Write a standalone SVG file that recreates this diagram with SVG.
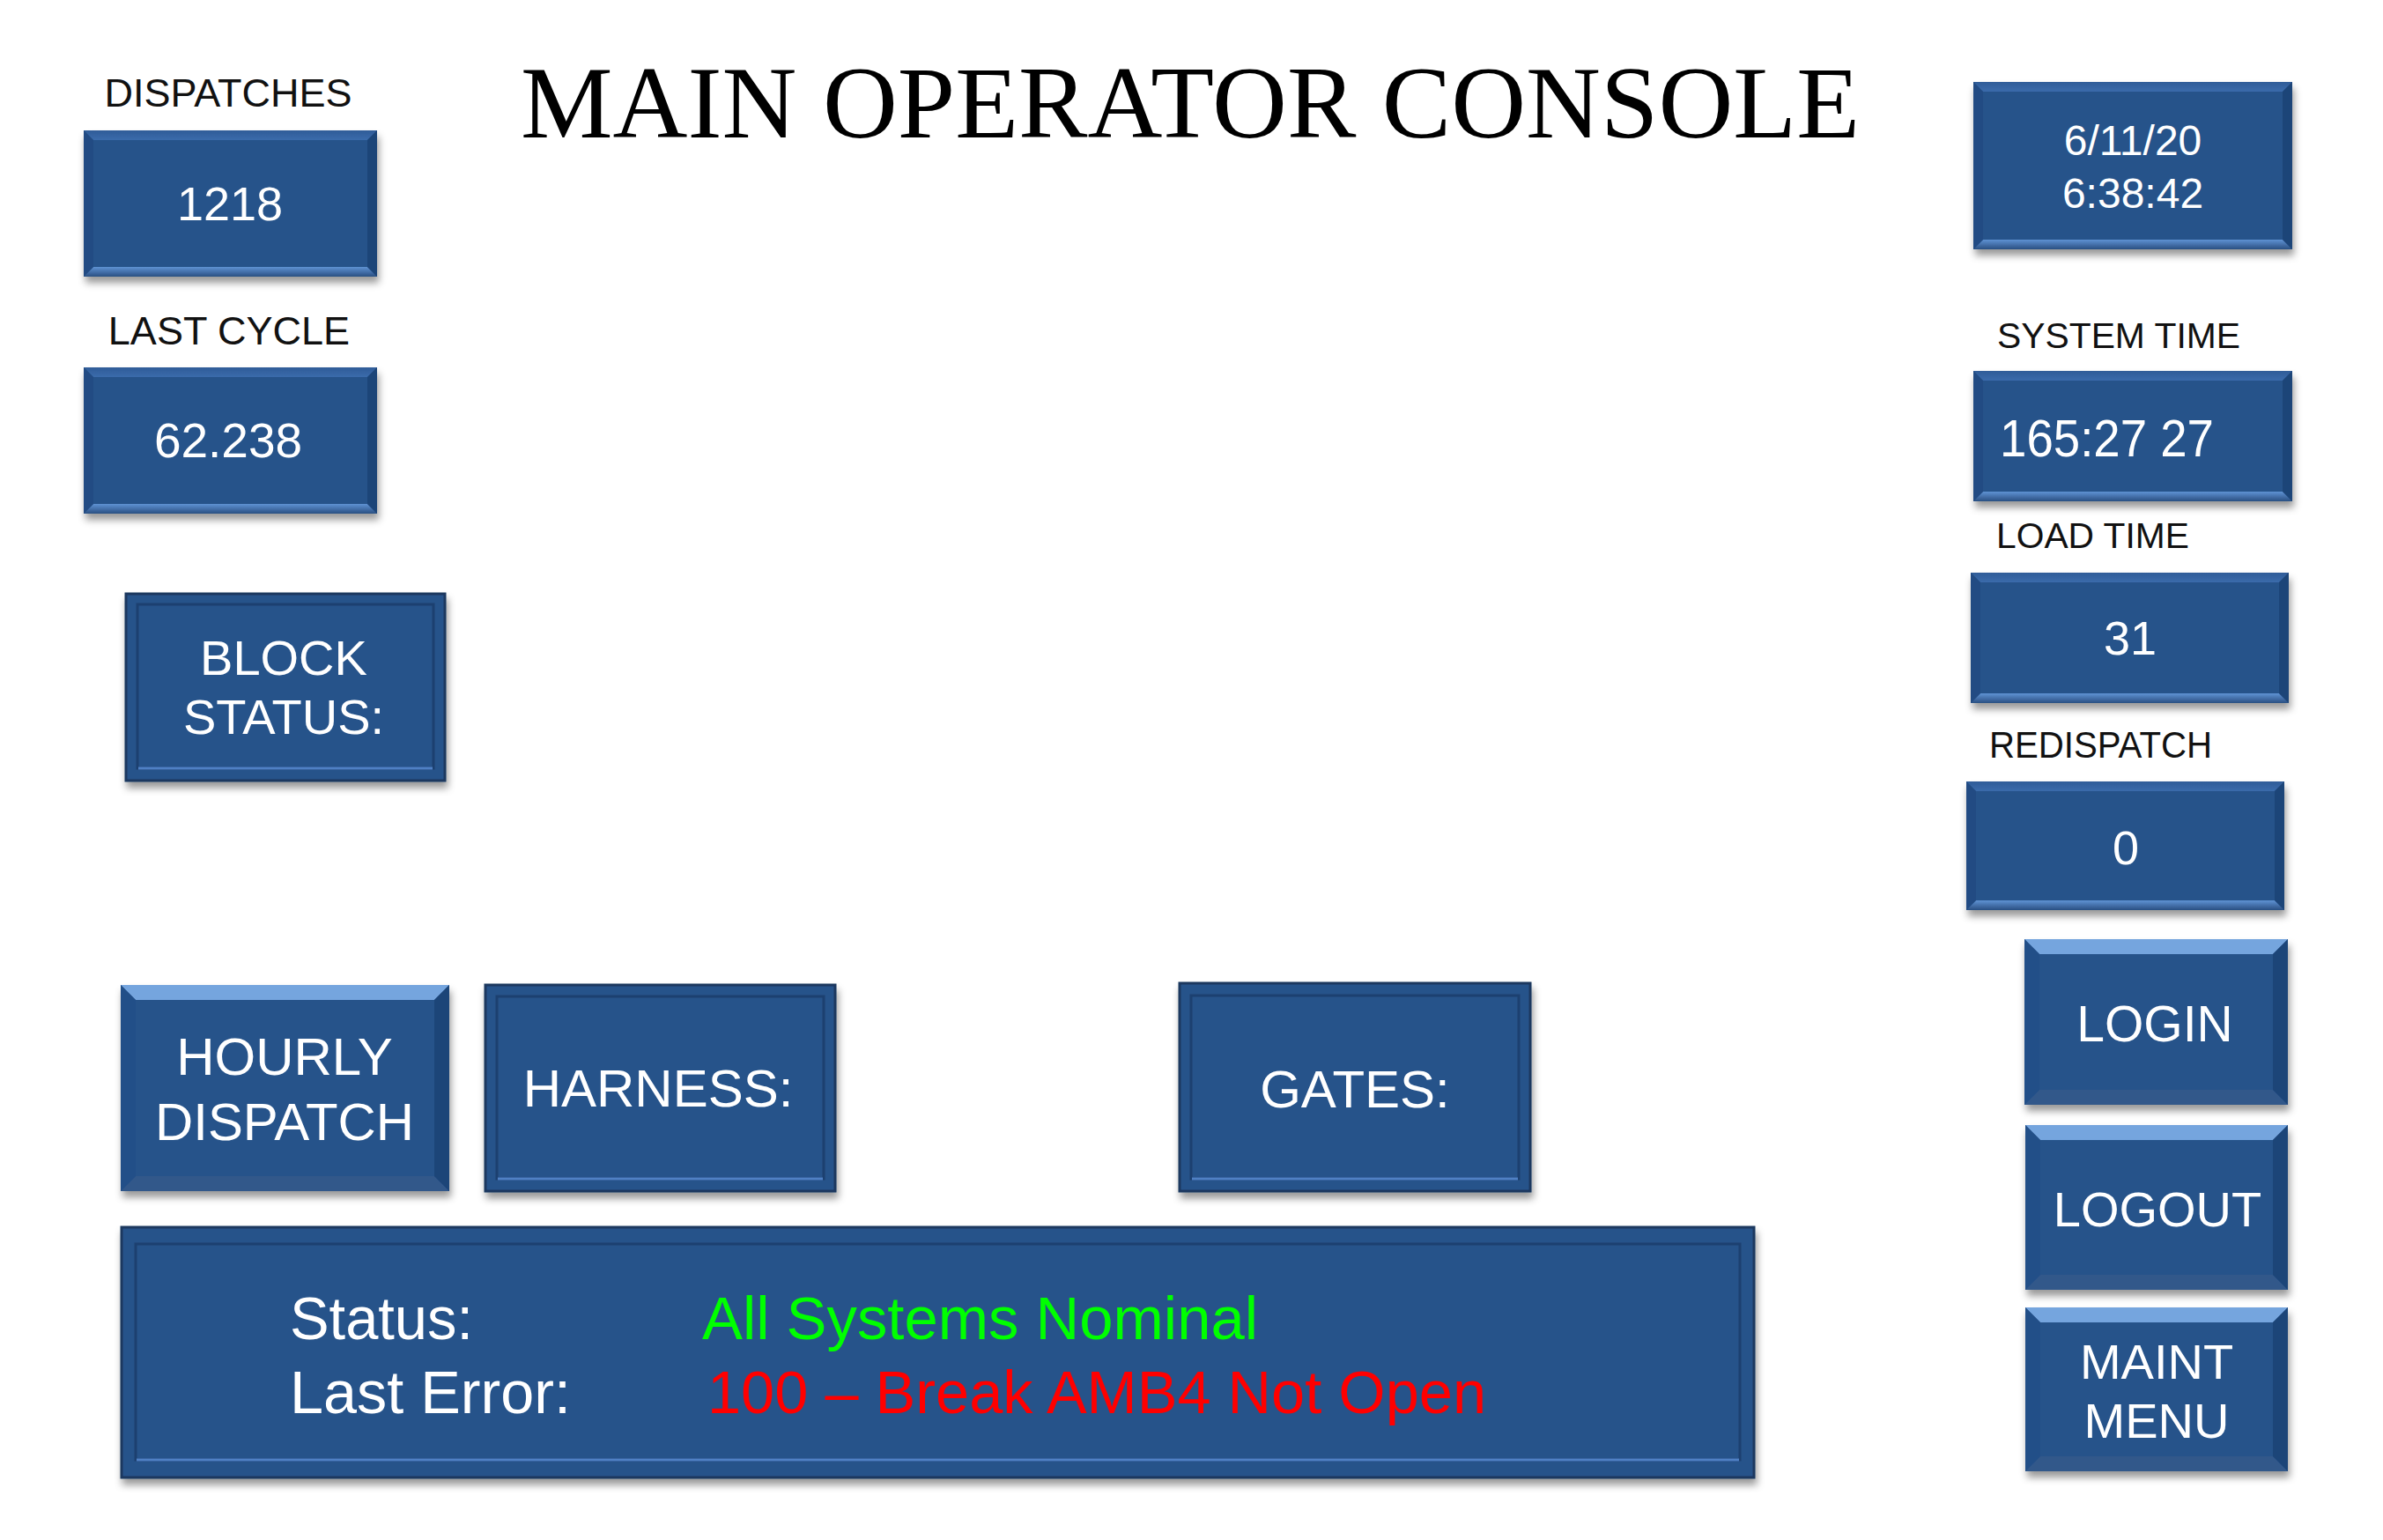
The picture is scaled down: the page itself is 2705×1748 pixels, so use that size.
<svg xmlns="http://www.w3.org/2000/svg" width="2705" height="1748" viewBox="0 0 2705 1748">
<defs>
<filter id="sh" x="-10%" y="-10%" width="120%" height="130%">
<feDropShadow dx="2" dy="7" stdDeviation="4" flood-color="#000" flood-opacity="0.4"/>
</filter>
<linearGradient id="gTopA" x1="0" y1="0" x2="0" y2="1"><stop offset="0" stop-color="#2f5c98"/><stop offset="1" stop-color="#3b6bab"/></linearGradient>
<linearGradient id="gBotA" x1="0" y1="0" x2="0" y2="1"><stop offset="0" stop-color="#5f92d3"/><stop offset="1" stop-color="#294f82"/></linearGradient>
</defs>
<style>
.bg{fill:#ffffff}
.face{fill:#27528a}
.tA{fill:url(#gTopA)}
.bA{fill:url(#gBotA)}
.lA{fill:#234c83}
.rA{fill:#1f4478}
.tC{fill:#74a5de}
.lC{fill:#244f88}
.rC{fill:#1e4478}
.bC{fill:#30588a}
.outB{fill:#27528a;stroke:#1b385f;stroke-width:3}
.inB{fill:none;stroke:#1d416f;stroke-width:3}
.inBl{fill:none;stroke:#4f80c4;stroke-width:3}
.lbl{font-family:"Liberation Sans",Arial,sans-serif;fill:#111111}
.val{font-family:"Liberation Sans",Arial,sans-serif;fill:#ffffff}
.ok{font-family:"Liberation Sans",Arial,sans-serif;fill:#00ff00}
.err{font-family:"Liberation Sans",Arial,sans-serif;fill:#ff0000}
.title{font-family:"Liberation Serif","Times New Roman",serif;fill:#000000}
</style>
<rect class="bg" x="0" y="0" width="2705" height="1748"/>

<g id="title"><text class="title" x="591" y="156" font-size="117" textLength="1520" lengthAdjust="spacingAndGlyphs">MAIN OPERATOR CONSOLE</text></g>

<g id="dispatches">
<text class="lbl" x="259" y="121" font-size="45" text-anchor="middle">DISPATCHES</text>
<g transform="translate(95,148)" filter="url(#sh)">
<rect class="face" x="0" y="0" width="333" height="166"/>
<polygon class="tA" points="0,0 333,0 322,11 11,11"/>
<polygon class="bA" points="0,166 11,155 322,155 333,166"/>
<polygon class="lA" points="0,0 11,11 11,155 0,166"/>
<polygon class="rA" points="333,0 333,166 322,155 322,11"/>
</g>
<text class="val" x="261" y="250" font-size="54" text-anchor="middle">1218</text>
</g>

<g id="last-cycle">
<text class="lbl" x="260" y="391" font-size="45" text-anchor="middle">LAST CYCLE</text>
<g transform="translate(95,417)" filter="url(#sh)">
<rect class="face" x="0" y="0" width="333" height="166"/>
<polygon class="tA" points="0,0 333,0 322,11 11,11"/>
<polygon class="bA" points="0,166 11,155 322,155 333,166"/>
<polygon class="lA" points="0,0 11,11 11,155 0,166"/>
<polygon class="rA" points="333,0 333,166 322,155 322,11"/>
</g>
<text class="val" x="259" y="519" font-size="55" text-anchor="middle">62.238</text>
</g>

<g id="block-status">
<g transform="translate(143,674)" filter="url(#sh)">
<rect class="outB" x="0" y="0" width="362" height="212"/>
<rect class="inB" x="13" y="12" width="336" height="186"/>
<line class="inBl" x1="14" y1="198" x2="348" y2="198"/>
</g>
<text class="val" x="322" y="766" font-size="56" text-anchor="middle">BLOCK</text>
<text class="val" x="322" y="833" font-size="56" text-anchor="middle">STATUS:</text>
</g>

<g id="hourly-dispatch">
<g transform="translate(137,1118)" filter="url(#sh)">
<rect class="face" x="0" y="0" width="373" height="234"/>
<polygon class="tC" points="0,0 373,0 356,17 17,17"/>
<polygon class="bC" points="0,234 17,217 356,217 373,234"/>
<polygon class="lC" points="0,0 17,17 17,217 0,234"/>
<polygon class="rC" points="373,0 373,234 356,217 356,17"/>
</g>
<text class="val" x="323" y="1220" font-size="60" text-anchor="middle">HOURLY</text>
<text class="val" x="323" y="1294" font-size="60" text-anchor="middle" textLength="294" lengthAdjust="spacingAndGlyphs">DISPATCH</text>
</g>

<g id="harness">
<g transform="translate(551,1118)" filter="url(#sh)">
<rect class="outB" x="0" y="0" width="397" height="234"/>
<rect class="inB" x="13" y="13" width="371" height="207"/>
<line class="inBl" x1="14" y1="220" x2="383" y2="220"/>
</g>
<text class="val" x="747" y="1256" font-size="60" text-anchor="middle">HARNESS:</text>
</g>

<g id="gates">
<g transform="translate(1339,1116)" filter="url(#sh)">
<rect class="outB" x="0" y="0" width="398" height="236"/>
<rect class="inB" x="13" y="14" width="372" height="208"/>
<line class="inBl" x1="14" y1="222" x2="384" y2="222"/>
</g>
<text class="val" x="1538" y="1257" font-size="60" text-anchor="middle">GATES:</text>
</g>

<g id="status-bar">
<g transform="translate(138,1393)" filter="url(#sh)">
<rect class="outB" x="0" y="0" width="1853" height="284"/>
<rect class="inB" x="16" y="19" width="1821" height="245"/>
<line class="inBl" x1="17" y1="264" x2="1836" y2="264"/>
</g>
<text class="val" x="329" y="1520" font-size="69" textLength="208" lengthAdjust="spacingAndGlyphs">Status:</text>
<text class="val" x="329" y="1604" font-size="69" textLength="319" lengthAdjust="spacingAndGlyphs">Last Error:</text>
<text class="ok" x="797" y="1520" font-size="69" textLength="631" lengthAdjust="spacingAndGlyphs">All Systems Nominal</text>
<text class="err" x="803" y="1604" font-size="69" textLength="884" lengthAdjust="spacingAndGlyphs">100 – Break AMB4 Not Open</text>
</g>

<g id="date-time">
<g transform="translate(2240,93)" filter="url(#sh)">
<rect class="face" x="0" y="0" width="362" height="190"/>
<polygon class="tA" points="0,0 362,0 351,11 11,11"/>
<polygon class="bA" points="0,190 11,179 351,179 362,190"/>
<polygon class="lA" points="0,0 11,11 11,179 0,190"/>
<polygon class="rA" points="362,0 362,190 351,179 351,11"/>
</g>
<text class="val" x="2421" y="176" font-size="48" text-anchor="middle">6/11/20</text>
<text class="val" x="2421" y="236" font-size="48" text-anchor="middle">6:38:42</text>
</g>

<g id="system-time">
<text class="lbl" x="2267" y="395" font-size="41" textLength="276" lengthAdjust="spacingAndGlyphs">SYSTEM TIME</text>
<g transform="translate(2240,421)" filter="url(#sh)">
<rect class="face" x="0" y="0" width="362" height="148"/>
<polygon class="tA" points="0,0 362,0 351,11 11,11"/>
<polygon class="bA" points="0,148 11,137 351,137 362,148"/>
<polygon class="lA" points="0,0 11,11 11,137 0,148"/>
<polygon class="rA" points="362,0 362,148 351,137 351,11"/>
</g>
<text class="val" x="2270" y="518" font-size="60" textLength="243" lengthAdjust="spacingAndGlyphs">165:27 27</text>
</g>

<g id="load-time">
<text class="lbl" x="2266" y="622" font-size="41" textLength="219" lengthAdjust="spacingAndGlyphs">LOAD TIME</text>
<g transform="translate(2237,650)" filter="url(#sh)">
<rect class="face" x="0" y="0" width="361" height="148"/>
<polygon class="tA" points="0,0 361,0 350,11 11,11"/>
<polygon class="bA" points="0,148 11,137 350,137 361,148"/>
<polygon class="lA" points="0,0 11,11 11,137 0,148"/>
<polygon class="rA" points="361,0 361,148 350,137 350,11"/>
</g>
<text class="val" x="2418" y="743" font-size="54" text-anchor="middle">31</text>
</g>

<g id="redispatch">
<text class="lbl" x="2258" y="860" font-size="42" textLength="253" lengthAdjust="spacingAndGlyphs">REDISPATCH</text>
<g transform="translate(2232,887)" filter="url(#sh)">
<rect class="face" x="0" y="0" width="361" height="146"/>
<polygon class="tA" points="0,0 361,0 350,11 11,11"/>
<polygon class="bA" points="0,146 11,135 350,135 361,146"/>
<polygon class="lA" points="0,0 11,11 11,135 0,146"/>
<polygon class="rA" points="361,0 361,146 350,135 350,11"/>
</g>
<text class="val" x="2413" y="981" font-size="54" text-anchor="middle">0</text>
</g>

<g id="login">
<g transform="translate(2298,1066)" filter="url(#sh)">
<rect class="face" x="0" y="0" width="299" height="188"/>
<polygon class="tC" points="0,0 299,0 282,17 17,17"/>
<polygon class="bC" points="0,188 17,171 282,171 299,188"/>
<polygon class="lC" points="0,0 17,17 17,171 0,188"/>
<polygon class="rC" points="299,0 299,188 282,171 282,17"/>
</g>
<text class="val" x="2446" y="1182" font-size="57" text-anchor="middle">LOGIN</text>
</g>

<g id="logout">
<g transform="translate(2299,1277)" filter="url(#sh)">
<rect class="face" x="0" y="0" width="298" height="187"/>
<polygon class="tC" points="0,0 298,0 281,17 17,17"/>
<polygon class="bC" points="0,187 17,170 281,170 298,187"/>
<polygon class="lC" points="0,0 17,17 17,170 0,187"/>
<polygon class="rC" points="298,0 298,187 281,170 281,17"/>
</g>
<text class="val" x="2449" y="1392" font-size="56" text-anchor="middle">LOGOUT</text>
</g>

<g id="maint-menu">
<g transform="translate(2299,1484)" filter="url(#sh)">
<rect class="face" x="0" y="0" width="298" height="186"/>
<polygon class="tC" points="0,0 298,0 281,17 17,17"/>
<polygon class="bC" points="0,186 17,169 281,169 298,186"/>
<polygon class="lC" points="0,0 17,17 17,169 0,186"/>
<polygon class="rC" points="298,0 298,186 281,169 281,17"/>
</g>
<text class="val" x="2448" y="1565" font-size="56" text-anchor="middle">MAINT</text>
<text class="val" x="2448" y="1632" font-size="56" text-anchor="middle">MENU</text>
</g>

<g id="connectors"></g>
</svg>
